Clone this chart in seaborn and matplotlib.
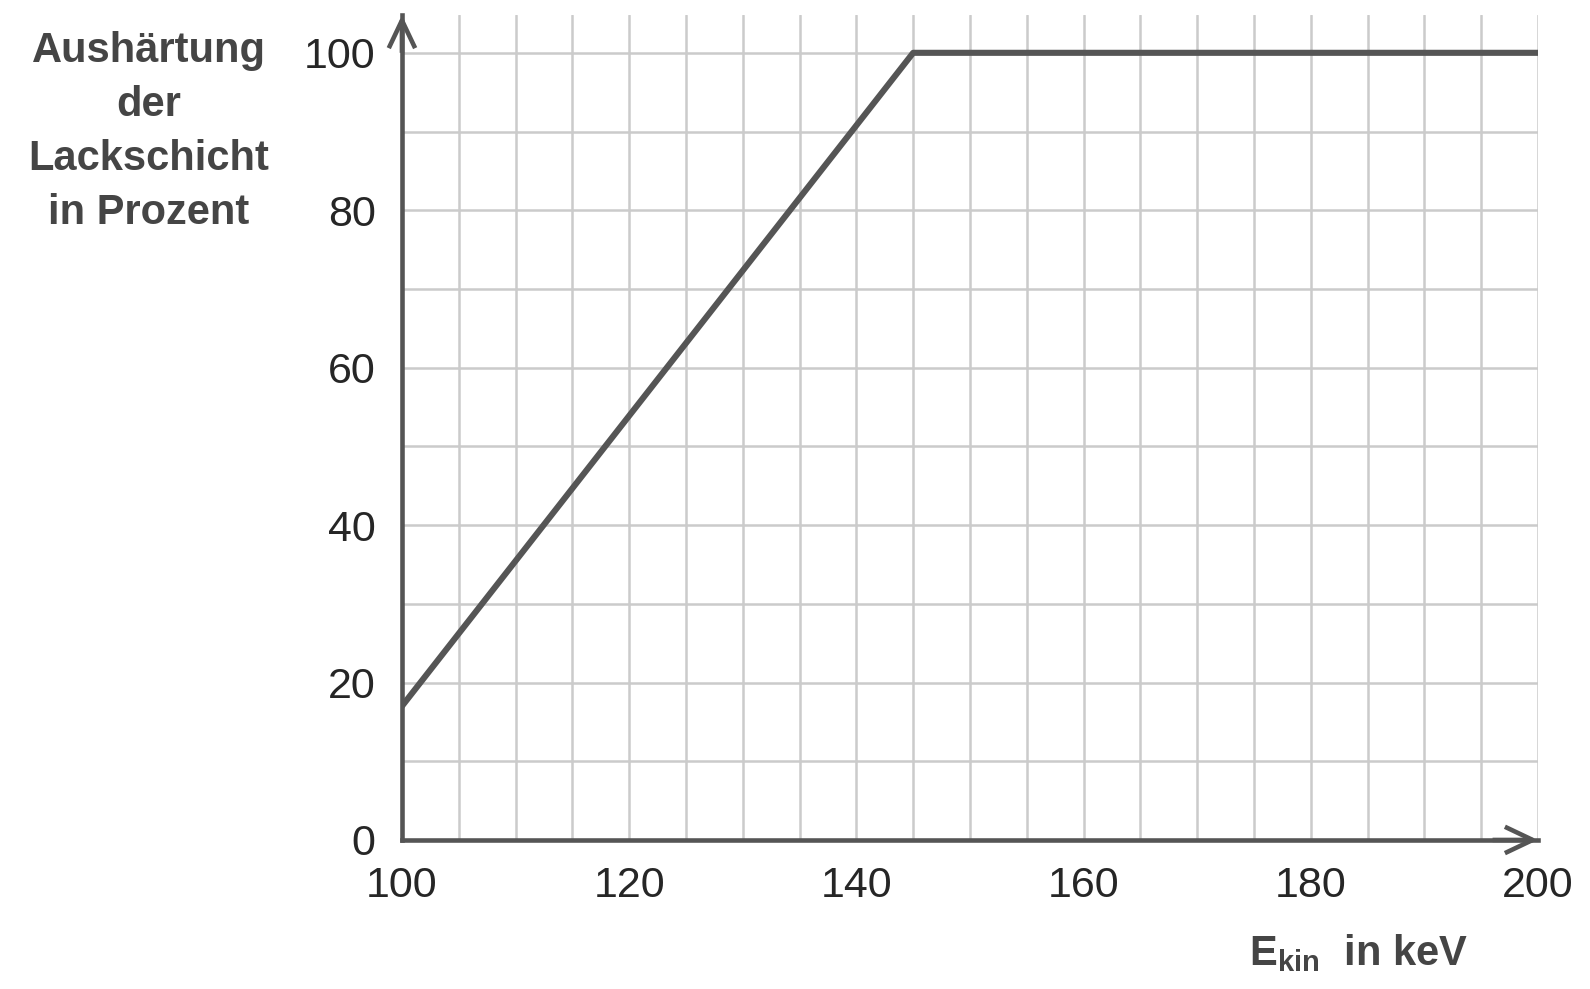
import matplotlib
matplotlib.use("Agg")
import matplotlib.pyplot as plt
import seaborn as sns
import pandas as pd
from matplotlib.ticker import MultipleLocator

# data
energy_kev = [100, 145, 200]
hardening_pct = [17, 100, 100]
x_ticks = [100, 120, 140, 160, 180, 200]
y_ticks = [0, 20, 40, 60, 80, 100]

df = pd.DataFrame({"E_kin": energy_kev, "Aushaertung": hardening_pct})

sns.set_style("white")
plt.rcParams["font.family"] = ["Liberation Sans", "DejaVu Sans"]
plt.rcParams["mathtext.fontset"] = "custom"
plt.rcParams["mathtext.rm"] = "Liberation Sans"
plt.rcParams["mathtext.bf"] = "Liberation Sans:bold"

axis_col = "#555555"
grid_col = "#cbcbcb"
text_col = "#262626"
label_col = "#454545"

fig = plt.figure(figsize=(15.9, 9.89), dpi=100)
ax = fig.add_axes([0.2528, 0.1507, 0.7145, 0.8341])

sns.lineplot(data=df, x="E_kin", y="Aushaertung", ax=ax, color=axis_col,
             linewidth=4.4, zorder=5)

ax.set_xlim(100, 200)
ax.set_ylim(0, 104.8)
ax.set_xticks(x_ticks)
ax.set_yticks(y_ticks)
ax.xaxis.set_minor_locator(MultipleLocator(5))
ax.yaxis.set_minor_locator(MultipleLocator(10))
ax.grid(which="both", color=grid_col, linewidth=1.8, zorder=0)
ax.set_axisbelow(True)

for s in ["top", "right"]:
    ax.spines[s].set_visible(False)
for s in ["left", "bottom"]:
    ax.spines[s].set_color(axis_col)
    ax.spines[s].set_linewidth(3.3)

ax.tick_params(which="major", length=9, width=3.3, color=axis_col,
               labelsize=31, labelcolor=text_col)
ax.tick_params(axis="y", which="major", pad=10)
ax.tick_params(axis="x", which="major", pad=10)
ax.tick_params(which="minor", length=0)
ax.set_xlabel("")
ax.set_ylabel("")

# arrow heads on the axes
arrow = dict(arrowstyle="->,head_length=2.0,head_width=0.95", lw=3.3,
             color=axis_col, shrinkA=0, shrinkB=0, mutation_scale=10,
             capstyle="butt")
ax.annotate("", xy=(100, 104.8), xytext=(100, 100), arrowprops=arrow,
            annotation_clip=False)
ax.annotate("", xy=(200, 0), xytext=(196, 0), arrowprops=arrow,
            annotation_clip=False)

fig.text(149 / 1590, 1 - 132 / 989, "Aushärtung\nder\nLackschicht\nin Prozent",
         ha="center", va="center", multialignment="center", fontsize=30,
         fontweight="bold", color=label_col, linespacing=1.45)

fig.text(1358 / 1590, 1 - 953 / 989, r"E$_{\mathbf{kin}}$  in keV",
         ha="center", va="center", fontsize=30, fontweight="bold",
         color=label_col)

fig.savefig("out.png", dpi=100, facecolor="white")
